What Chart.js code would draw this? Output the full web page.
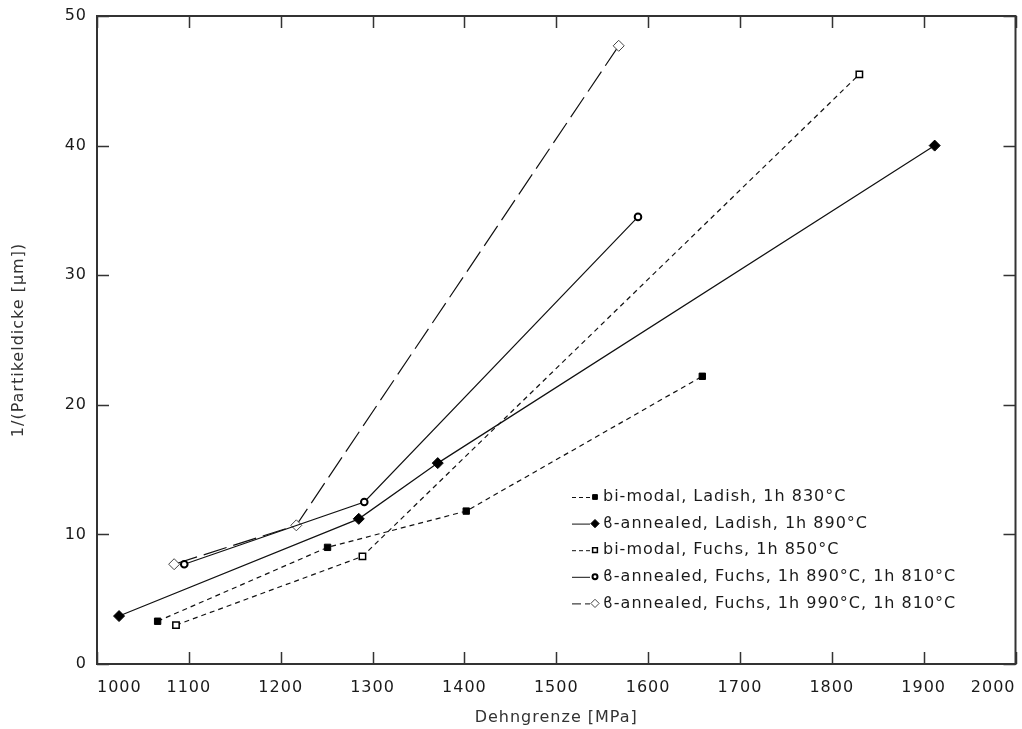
<!DOCTYPE html>
<html>
<head>
<meta charset="utf-8">
<script src="https://cdn.jsdelivr.net/npm/chart.js@4/dist/chart.umd.min.js"></script>
<style>
  html, body { margin: 0; padding: 0; background: #fff; }
  #wrap { width: 1022px; height: 729px; }
</style>
</head>
<body>
<div id="wrap"><canvas id="c" width="1022" height="729"></canvas></div>
<script>
// Yield strength [MPa] vs. 1/(particle thickness [µm])
const labels = [
  "bi-modal, Ladish, 1h 830°C",
  "ϐ-annealed, Ladish, 1h 890°C",
  "bi-modal, Fuchs, 1h 850°C",
  "ϐ-annealed, Fuchs, 1h 890°C, 1h 810°C",
  "ϐ-annealed, Fuchs, 1h 990°C, 1h 810°C"
];

const ladishBimodalX = [1066, 1251, 1402, 1659];
const ladishBimodalY = [3.3, 9.0, 11.8, 22.2];

const ladishBetaX = [1024, 1285, 1371, 1912];
const ladishBetaY = [3.7, 11.2, 15.5, 40.0];

const fuchsBimodalX = [1086, 1289, 1830];
const fuchsBimodalY = [3.0, 8.3, 45.5];

const fuchsBeta890X = [1095, 1291, 1589];
const fuchsBeta890Y = [7.7, 12.5, 34.5];

const fuchsBeta990X = [1084, 1217, 1568];
const fuchsBeta990Y = [7.7, 10.7, 47.7];

const xTicks = [1000, 1100, 1200, 1300, 1400, 1500, 1600, 1700, 1800, 1900, 2000];
const yTicks = [0, 10, 20, 30, 40, 50];

const FONT = "'DejaVu Sans', sans-serif";
const INK = '#1a1a1a';
const SPACING = '1px';

function pts(xs, ys) { return xs.map((x, i) => ({ x: x, y: ys[i] })); }

const seriesStyle = [
  { dash: [5, 4],  pointStyle: 'rect',    radius: 4.5, fill: '#000', border: '#000', bw: 1 },
  { dash: [],      pointStyle: 'rectRot', radius: 5.5, fill: '#000', border: '#000', bw: 1 },
  { dash: [5, 4],  pointStyle: 'rect',    radius: 4.5, fill: '#fff', border: '#000', bw: 1.5 },
  { dash: [],      pointStyle: 'circle',  radius: 3.3, fill: '#fff', border: '#000', bw: 2 },
  { dash: [24, 7], pointStyle: 'rectRot', radius: 5.5, fill: '#fff', border: '#444', bw: 1 }
];

const seriesData = [
  pts(ladishBimodalX, ladishBimodalY),
  pts(ladishBetaX, ladishBetaY),
  pts(fuchsBimodalX, fuchsBimodalY),
  pts(fuchsBeta890X, fuchsBeta890Y),
  pts(fuchsBeta990X, fuchsBeta990Y)
];

const datasets = seriesData.map((d, i) => ({
  label: labels[i],
  data: d,
  showLine: true,
  borderColor: '#111',
  borderWidth: 1.2,
  borderDash: seriesStyle[i].dash,
  pointStyle: seriesStyle[i].pointStyle,
  pointRadius: seriesStyle[i].radius,
  pointBackgroundColor: seriesStyle[i].fill,
  pointBorderColor: seriesStyle[i].border,
  pointBorderWidth: seriesStyle[i].bw,
  tension: 0
}));

// Slightly wider text tracking for every label on the canvas
const spacingPlugin = {
  id: 'spacing',
  beforeLayout(chart) { chart.ctx.letterSpacing = SPACING; },
  beforeDraw(chart) { chart.ctx.letterSpacing = SPACING; }
};

// Frame with inward ticks on all four sides
const framePlugin = {
  id: 'frame',
  afterDatasetsDraw(chart) {
    const { ctx, chartArea: a, scales } = chart;
    ctx.save();
    ctx.strokeStyle = '#333';
    ctx.lineWidth = 1.5;
    const tl = 12;
    ctx.beginPath();
    xTicks.forEach(v => {
      const px = Math.round(scales.x.getPixelForValue(v)) + 0.5;
      ctx.moveTo(px, a.bottom); ctx.lineTo(px, a.bottom - tl);
      ctx.moveTo(px, a.top); ctx.lineTo(px, a.top + tl);
    });
    yTicks.forEach(v => {
      const py = Math.round(scales.y.getPixelForValue(v)) + 0.5;
      ctx.moveTo(a.left, py); ctx.lineTo(a.left + tl, py);
      ctx.moveTo(a.right, py); ctx.lineTo(a.right - tl, py);
    });
    ctx.stroke();
    ctx.lineWidth = 2;
    ctx.strokeRect(a.left, a.top, a.right - a.left, a.bottom - a.top);
    ctx.restore();
  }
};

// Legend: line sample, marker and label for each series
const legendPlugin = {
  id: 'lineLegend',
  afterDraw(chart) {
    const { ctx } = chart;
    const x0 = 572, x1 = 590, xm = 595, xt = 603;
    const y0 = 497, step = 26.6;
    ctx.save();
    ctx.letterSpacing = SPACING;
    chart.data.datasets.forEach((ds, i) => {
      const y = y0 + i * step;
      ctx.strokeStyle = ds.borderColor;
      ctx.lineWidth = 1;
      ctx.setLineDash(ds.borderDash.length ? (ds.borderDash[0] > 10 ? [9, 4] : [4, 3]) : []);
      ctx.beginPath();
      ctx.moveTo(x0, y + 0.5);
      ctx.lineTo(x1, y + 0.5);
      ctx.stroke();
      ctx.setLineDash([]);
      ctx.fillStyle = ds.pointBackgroundColor;
      ctx.strokeStyle = ds.pointBorderColor;
      ctx.lineWidth = ds.pointBorderWidth;
      Chart.helpers.drawPoint(ctx, {
        pointStyle: ds.pointStyle,
        radius: ds.pointRadius * 0.75,
        borderWidth: ds.pointBorderWidth,
        rotation: 0
      }, xm, y);
      ctx.fillStyle = INK;
      ctx.font = '16px ' + FONT;
      ctx.textBaseline = 'middle';
      ctx.textAlign = 'left';
      ctx.fillText(ds.label, xt, y);
    });
    ctx.restore();
  }
};

new Chart(document.getElementById('c'), {
  type: 'scatter',
  data: { datasets: datasets },
  options: {
    responsive: false,
    animation: false,
    layout: { padding: { top: 16, right: 6, left: 0, bottom: 0 } },
    plugins: {
      legend: { display: false },
      tooltip: { enabled: false }
    },
    scales: {
      x: {
        type: 'linear',
        min: 1000, max: 2000,
        afterBuildTicks(scale) { scale.ticks = xTicks.map(v => ({ value: v })); },
        afterFit(scale) {
          scale.height = 65;
          scale.paddingLeft = 0;
          scale.paddingRight = 0;
        },
        grid: { display: false, drawTicks: false },
        border: { display: false },
        ticks: {
          align: 'inner',
          padding: 14,
          color: INK,
          font: { family: FONT, size: 16 },
          maxRotation: 0,
          callback: v => String(v)
        },
        title: {
          display: true,
          text: 'Dehngrenze [MPa]',
          color: '#333',
          font: { family: FONT, size: 16 },
          padding: { top: 4, bottom: 2 }
        }
      },
      y: {
        type: 'linear',
        min: 0, max: 50,
        afterBuildTicks(scale) { scale.ticks = yTicks.map(v => ({ value: v })); },
        afterFit(scale) {
          scale.width = 97;
          scale.paddingTop = 0;
          scale.paddingBottom = 0;
        },
        grid: { display: false, drawTicks: false },
        border: { display: false },
        ticks: {
          padding: 10,
          color: INK,
          font: { family: FONT, size: 16 },
          callback: v => String(v)
        },
        title: {
          display: true,
          text: '1/(Partikeldicke [µm])',
          color: '#333',
          font: { family: FONT, size: 16 },
          padding: { top: 9, bottom: 0 }
        }
      }
    }
  },
  plugins: [spacingPlugin, framePlugin, legendPlugin]
});
</script>
</body>
</html>
